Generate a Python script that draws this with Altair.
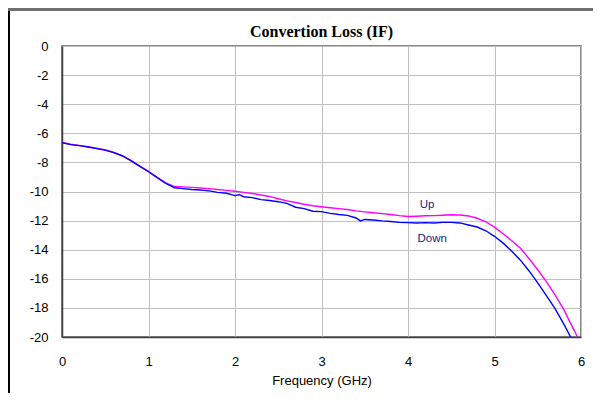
import altair as alt
import pandas as pd

up_freq = [0.0, 0.1, 0.2, 0.3, 0.4, 0.5, 0.6, 0.7, 0.8, 0.9, 1.0, 1.1, 1.2, 1.3, 1.4, 1.5,
           1.6, 1.7, 1.8, 1.9, 2.0, 2.1, 2.2, 2.3, 2.4, 2.5, 2.6, 2.7, 2.8, 2.9, 3.0, 3.1,
           3.2, 3.3, 3.4, 3.5, 3.6, 3.7, 3.8, 3.9, 4.0, 4.1, 4.2, 4.3, 4.4, 4.5, 4.6, 4.7,
           4.8, 4.9, 5.0, 5.1, 5.2, 5.3, 5.4, 5.5, 5.6, 5.7, 5.8, 5.9, 5.96]
up_loss = [-6.62, -6.75, -6.83, -6.92, -7.03, -7.15, -7.32, -7.55, -7.88, -8.25, -8.62,
           -9.02, -9.40, -9.66, -9.68, -9.72, -9.76, -9.80, -9.86, -9.92, -9.98, -10.06,
           -10.14, -10.24, -10.34, -10.50, -10.64, -10.76, -10.88, -10.98, -11.05, -11.12,
           -11.18, -11.24, -11.33, -11.40, -11.46, -11.52, -11.58, -11.66, -11.72, -11.70,
           -11.67, -11.66, -11.63, -11.60, -11.62, -11.68, -11.84, -12.08, -12.45, -12.90,
           -13.38, -13.90, -14.62, -15.38, -16.20, -17.10, -18.10, -19.30, -20.0]

down_freq = [0.0, 0.1, 0.2, 0.3, 0.4, 0.5, 0.6, 0.7, 0.8, 0.9, 1.0, 1.1, 1.2, 1.3, 1.4, 1.5,
             1.6, 1.7, 1.8, 1.9, 2.0, 2.05, 2.1, 2.2, 2.3, 2.4, 2.5, 2.6, 2.7, 2.8, 2.9, 3.0,
             3.1, 3.2, 3.3, 3.4, 3.45, 3.5, 3.6, 3.7, 3.8, 3.9, 4.0, 4.1, 4.2, 4.3, 4.4, 4.5,
             4.6, 4.7, 4.8, 4.9, 5.0, 5.1, 5.2, 5.3, 5.4, 5.5, 5.6, 5.7, 5.8, 5.88]
down_loss = [-6.65, -6.78, -6.85, -6.94, -7.05, -7.16, -7.33, -7.56, -7.90, -8.27, -8.64,
             -9.05, -9.45, -9.74, -9.80, -9.86, -9.90, -9.96, -10.06, -10.12, -10.28, -10.22,
             -10.36, -10.42, -10.56, -10.62, -10.70, -10.82, -11.08, -11.18, -11.36, -11.38,
             -11.50, -11.58, -11.64, -11.82, -12.02, -11.92, -11.96, -12.02, -12.06, -12.12,
             -12.14, -12.16, -12.14, -12.16, -12.12, -12.12, -12.16, -12.30, -12.44, -12.70,
             -13.08, -13.55, -14.10, -14.72, -15.46, -16.28, -17.15, -18.05, -19.10, -20.0]

label_text = ["Up", "Down"]
label_freq = [4.22, 4.28]
label_loss = [-10.93, -13.26]

chart_title = "Convertion Loss (IF)"
x_title = "Frequency (GHz)"
x_ticks = [0, 1, 2, 3, 4, 5, 6]
y_ticks = [0, -2, -4, -6, -8, -10, -12, -14, -16, -18, -20]

up_df = pd.DataFrame({"freq": up_freq, "loss": up_loss})
down_df = pd.DataFrame({"freq": down_freq, "loss": down_loss})
lab_df = pd.DataFrame({"freq": label_freq, "loss": label_loss, "text": label_text})
title_df = pd.DataFrame({"text": [chart_title]})

x_enc = alt.X("freq:Q", scale=alt.Scale(domain=[0, 6], nice=False),
              axis=alt.Axis(values=x_ticks, title=x_title, format="d",
                            labelOverlap=False, labelFlush=False))
y_enc = alt.Y("loss:Q", scale=alt.Scale(domain=[-20, 0], nice=False),
              axis=alt.Axis(values=y_ticks, title=None, labelOverlap=False, labelFlush=False,
                            labelExpr="datum.value == 0 ? '0' : '-' + abs(datum.value)"))

up_line = alt.Chart(up_df).mark_line(color="#ff00ff", strokeWidth=1.4, clip=True).encode(
    x=x_enc, y=y_enc)
down_line = alt.Chart(down_df).mark_line(color="#0000ff", strokeWidth=1.4, clip=True).encode(
    x=x_enc, y=y_enc)
labels = alt.Chart(lab_df).mark_text(font="Liberation Sans", fontSize=11.5,
                                     color="#202080").encode(
    x=x_enc, y=y_enc, text="text:N")

title_mark = alt.Chart(title_df).mark_text(
    font="Liberation Serif", fontSize=16, fontWeight="bold", color="#000000",
    baseline="middle", align="center").encode(
    x=alt.value(259.5), y=alt.value(-14), text="text:N")

frame_left = alt.Chart(up_df).mark_rule(color="#000000", strokeWidth=2).encode(
    x=alt.value(-53), y=alt.value(-38), y2=alt.value(360))
frame_top = alt.Chart(up_df).mark_rule(color="#707070", strokeWidth=2.5).encode(
    x=alt.value(-54), x2=alt.value(540), y=alt.value(-37))

chart = alt.layer(up_line, down_line, labels, title_mark, frame_left, frame_top).properties(
    width=519, height=291,
    autosize=alt.AutoSizeParams(type="none"),
    padding={"left": 54, "top": 38, "right": 12, "bottom": 56},
    background="white",
).configure_axis(
    labelFont="Liberation Sans", labelFontSize=13, labelColor="#000000",
    titleFont="Liberation Sans", titleFontSize=13, titleColor="#000000",
    titleFontWeight="normal",
    gridColor="#c0c0c0", gridWidth=1, domainColor="#404040", domainWidth=1.5,
    tickSize=0,
).configure_axisX(labelPadding=18, titlePadding=6, labelAngle=0) \
 .configure_axisY(labelPadding=14) \
 .configure_view(stroke="#606060", strokeWidth=1.5)

chart.save("out.html", embed_options={"renderer": "svg", "actions": False})
